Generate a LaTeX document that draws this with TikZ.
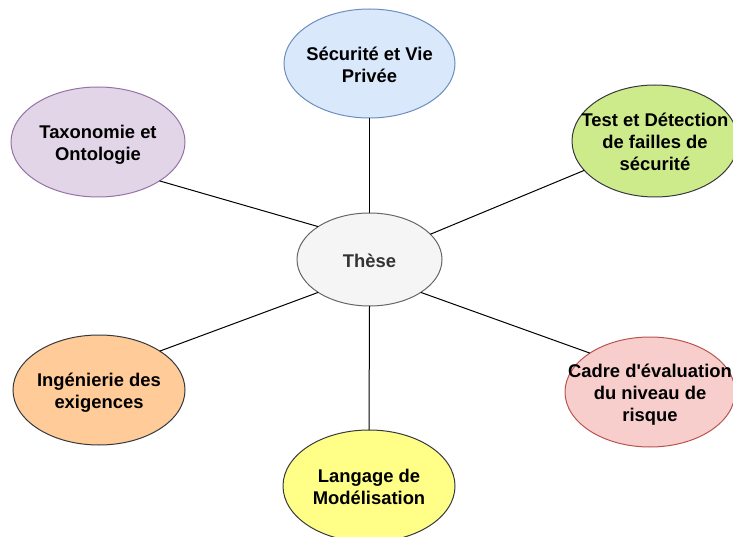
\documentclass[tikz,border=0pt]{standalone}
\usepackage{fontspec}
\newfontfamily\lab{Liberation Sans}
\usetikzlibrary{shapes.geometric}
\definecolor{bluef}{HTML}{DAE8FC}\definecolor{blues}{HTML}{6C8EBF}
\definecolor{purf}{HTML}{E1D5E7}\definecolor{purs}{HTML}{9673A6}
\definecolor{greenf}{HTML}{CDEB8B}\definecolor{darks}{HTML}{36393D}
\definecolor{grayf}{HTML}{F5F5F5}\definecolor{grays}{HTML}{666666}\definecolor{grayt}{HTML}{333333}
\definecolor{orf}{HTML}{FFCC99}
\definecolor{redf}{HTML}{F8CECC}\definecolor{reds}{HTML}{B85450}
\definecolor{yelf}{HTML}{FFFF88}
\newcommand{\txtline}[1]{\strut#1}
\tikzset{
  ell/.style={ellipse, draw, line width=1pt, inner sep=0pt, outer sep=0pt},
  txt/.style={align=center, inner sep=0pt, yshift=-3.5pt, font=\lab\bfseries\fontsize{18.4}{22}\selectfont},
  link/.style={draw=black, line width=1pt}
}
\begin{document}
\begin{tikzpicture}[x=1pt,y=-1pt]
\useasboundingbox (0,0) rectangle (733,537);
\clip (0,0) rectangle (733,537);
% ellipses
\node[ell, fill=bluef, draw=blues, minimum width=171pt, minimum height=109pt] (sec) at (369.5,63.5) {};
\node[ell, fill=purf, draw=purs, minimum width=174pt, minimum height=110pt] (tax) at (98,142) {};
\node[ell, fill=greenf, draw=darks, minimum width=166pt, minimum height=112pt] (test) at (655,141) {};
\node[ell, fill=grayf, draw=grays, minimum width=145pt, minimum height=93pt] (thes) at (369.5,259.5) {};
\node[ell, fill=orf, draw=darks, minimum width=172pt, minimum height=110pt] (ing) at (99,390) {};
\node[ell, fill=redf, draw=reds, minimum width=170pt, minimum height=110pt] (cad) at (650,392) {};
\node[ell, fill=yelf, draw=darks, minimum width=172pt, minimum height=112pt] (lang) at (369,486) {};
% connectors
\draw[link] (thes.north) -- (sec.south);
\draw[link] (thes.south) -- (lang.north);
\draw[link] (thes.north west) -- (tax.south east);
\draw[link] (thes.south west) -- (ing.north east);
\draw[link] (thes.south east) -- (cad.north west);
\draw[link] (thes) -- (test);
% texts
\node[txt] (secT) at (sec) {\txtline{Sécurité et Vie}\\\txtline{Privée}};
\node[txt] (taxT) at (tax) {\txtline{Taxonomie et}\\\txtline{Ontologie}};
\node[txt] (testT) at (test) {\txtline{Test et Détection}\\\txtline{de failles de}\\\txtline{sécurité}};
\node[txt, text=grayt] (thesT) at (thes) {\txtline{Thèse}};
\node[txt] (ingT) at (ing) {\txtline{Ingénierie des}\\\txtline{exigences}};
\node[txt] (cadT) at (cad) {\txtline{Cadre d'évaluation}\\\txtline{du niveau de}\\\txtline{risque}};
\node[txt] (langT) at (lang) {\txtline{Langage de}\\\txtline{Modélisation}};
\end{tikzpicture}
\end{document}
